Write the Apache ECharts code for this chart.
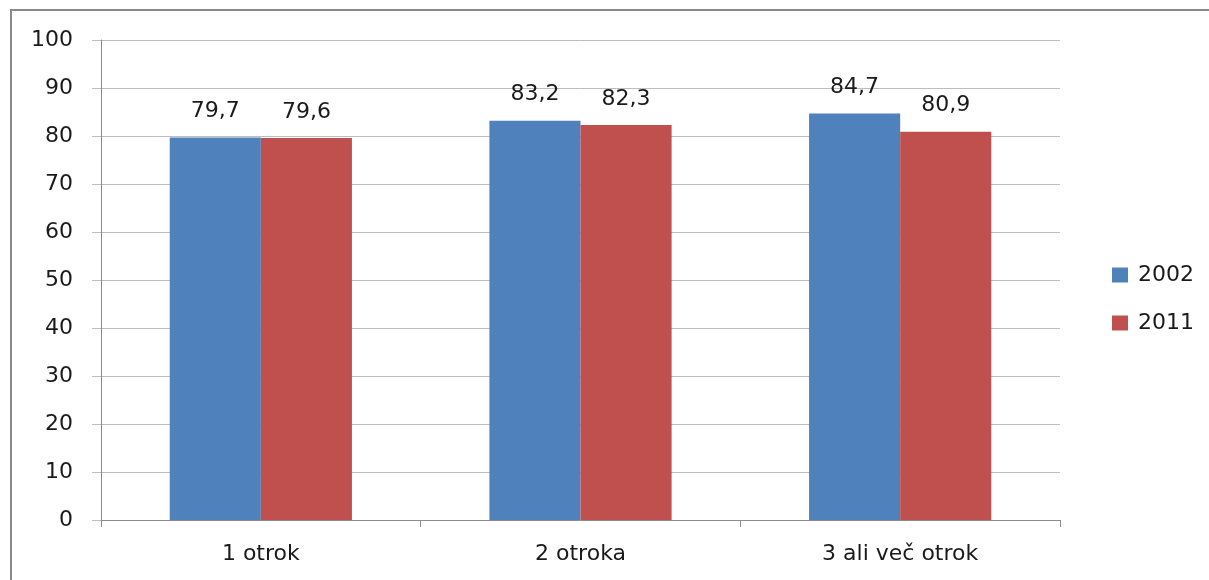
<!DOCTYPE html>
<html><head><meta charset="utf-8">
<script src="https://cdn.jsdelivr.net/npm/echarts@6/dist/echarts.min.js"></script>
<style>html,body{margin:0;padding:0;background:#fff}#c{width:1209px;height:580px}</style>
</head><body><div id="c"></div>
<script>
const categories = ['1 otrok', '2 otroka', '3 ali več otrok'];
const seriesNames = ['2002', '2011'];
const values2002 = [79.7, 83.2, 84.7];
const values2011 = [79.6, 82.3, 80.9];
const yTicks = [0, 100, 10];

const chart = echarts.init(document.getElementById('c'), null, {renderer: 'canvas'});
const font = 'DejaVu Sans, sans-serif';
const lbl = {
  show: true, position: 'top', distance: 15, color: '#1a1a1a', fontSize: 22, fontFamily: font,
  formatter: p => String(p.value).replace('.', ',')
};
chart.setOption({
  animation: false,
  grid: {left: 101, right: 149, top: 40, bottom: 60},
  legend: {
    orient: 'vertical', left: 1107, top: 259, itemWidth: 16, itemHeight: 15, itemGap: 26,
    icon: 'rect',
    textStyle: {fontSize: 22, fontFamily: font, color: '#1a1a1a', padding: [0,0,0,5]},
    data: seriesNames
  },
  xAxis: {
    type: 'category', data: categories,
    axisLine: {lineStyle: {color: '#8c8c8c', width: 1}},
    axisTick: {show: true, length: 7, lineStyle: {color: '#8c8c8c'}},
    axisLabel: {fontSize: 22, fontFamily: font, color: '#1a1a1a', margin: 23}
  },
  yAxis: {
    type: 'value', min: yTicks[0], max: yTicks[1], interval: yTicks[2],
    axisLine: {show: true, lineStyle: {color: '#8c8c8c', width: 1}},
    axisTick: {show: true, length: 9, lineStyle: {color: '#bdbdbd'}},
    splitLine: {lineStyle: {color: '#bdbdbd', width: 1}},
    axisLabel: {fontSize: 22, fontFamily: font, color: '#1a1a1a', margin: 28}
  },
  series: [
    {name: seriesNames[0], type: 'bar', data: values2002, barGap: '0%', barCategoryGap: '43%',
     itemStyle: {color: '#4F81BD'}, label: lbl},
    {name: seriesNames[1], type: 'bar', data: values2011, barGap: '0%', barCategoryGap: '43%',
     itemStyle: {color: '#C0504D'}, label: lbl}
  ],
  graphic: [
    {type: 'line', shape: {x1: 11, y1: 10, x2: 11, y2: 580}, style: {stroke: '#8a8a8a', lineWidth: 2}},
    {type: 'line', shape: {x1: 10, y1: 10, x2: 1209, y2: 10}, style: {stroke: '#8a8a8a', lineWidth: 2}}
  ]
});
</script></body></html>
